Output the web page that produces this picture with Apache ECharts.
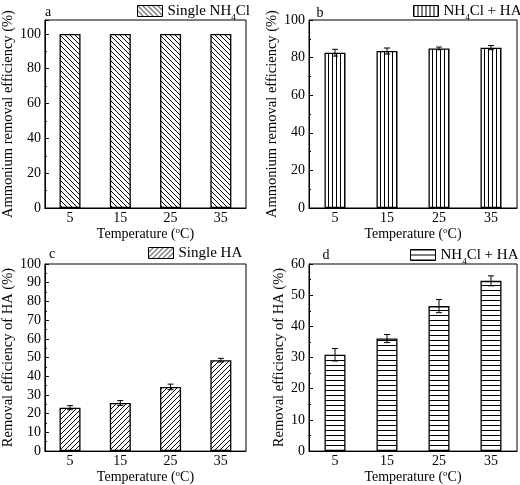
<!DOCTYPE html>
<html><head><meta charset="utf-8">
<script src="https://cdn.jsdelivr.net/npm/echarts@6/dist/echarts.min.js"></script>
<style>html,body{margin:0;padding:0;background:#fff}#c{width:520px;height:485px}</style>
</head><body><div id="c"></div>
<script>
// ---- data ----
const categories = ['5', '15', '25', '35'];
const aValues = [100, 100, 100, 100];
const bValues = [82.6, 83.5, 84.9, 85.3];
const bErrors = [1.8, 1.6, 0.7, 1.1];
const cValues = [23.2, 25.7, 34.3, 48.6];
const cErrors = [1.1, 1.3, 1.5, 1.0];
const dValues = [30.9, 36.1, 46.5, 54.6];
const dErrors = [2.0, 1.3, 2.1, 1.6];
const seriesNames = ['Single NH4Cl', 'NH4Cl + HA', 'Single HA', 'NH4Cl + HA '];
const yTitleA = 'Ammonium removal efficiency (%)';
const yTitleC = 'Removal efficiency of HA (%)';

const FONT = '"Liberation Serif", "Times New Roman", serif';

function makePattern(type) {
  const s = type === 'v' ? 4 : 5;
  const c = document.createElement('canvas');
  c.width = s; c.height = s;
  const g = c.getContext('2d');
  g.fillStyle = '#fff'; g.fillRect(0, 0, s, s);
  g.strokeStyle = '#000'; g.lineWidth = 1;
  g.beginPath();
  if (type === 'v') { g.moveTo(0.5, 0); g.lineTo(0.5, s); }
  else if (type === 'h') { g.moveTo(0, 0.5); g.lineTo(s, 0.5); }
  else if (type === 'back') { for (let k = -1; k <= 1; k++) { g.moveTo(k * s, 0); g.lineTo(k * s + s, s); } }
  else { for (let k = -1; k <= 1; k++) { g.moveTo(k * s, s); g.lineTo(k * s + s, 0); } }
  g.stroke();
  return { image: c, repeat: 'repeat' };
}

const grids = [
  { left: 37, top: 20, width: 209, height: 188 },
  { left: 309, top: 20, width: 208, height: 188 },
  { left: 37, top: 264, width: 209, height: 188 },
  { left: 309, top: 264, width: 208, height: 188 }
];
const yCfg = [
  { min: 0, max: 108, interval: 20, name: yTitleA, gap: 22 },
  { min: 0, max: 100, interval: 20, name: yTitleA, gap: 21 },
  { min: 0, max: 100, interval: 10, name: yTitleC, gap: 24 },
  { min: 0, max: 60, interval: 10, name: yTitleC, gap: 21 }
];
const patterns = [makePattern('back'), makePattern('v'), makePattern('fwd'), makePattern('h')];
const values = [aValues, bValues, cValues, dValues];
const errors = [null, bErrors, cErrors, dErrors];
const legendPos = [
  { left: 137, top: 0 }, { left: 413, top: 0 }, { left: 148, top: 245 }, { left: 410, top: 244 }
];
const letters = [
  { t: 'a', x: 48, y: 12 }, { t: 'b', x: 320, y: 13 }, { t: 'c', x: 52, y: 254 }, { t: 'd', x: 326, y: 255 }
];

const richSub = {
  sub: { fontFamily: FONT, fontSize: 9, color: '#000', lineHeight: 24, verticalAlign: 'bottom' },
  sup: { fontFamily: FONT, fontSize: 9, color: '#000', lineHeight: 24, verticalAlign: 'top' }
};

const xAxes = grids.map((g, i) => ({
  type: 'category', gridIndex: i, data: categories,
  axisLine: { lineStyle: { color: '#000', width: 1 } },
  axisTick: { inside: true, length: 3, lineStyle: { color: '#000' } },
  axisLabel: { color: '#000', fontFamily: FONT, fontSize: 14, margin: 3 },
  name: 'Temperature ({sup|o}C)', nameLocation: 'middle', nameGap: 15,
  nameTextStyle: { color: '#000', fontFamily: FONT, fontSize: 14, rich: {
    sup: { fontFamily: FONT, fontSize: 9, color: '#000', verticalAlign: 'top', lineHeight: 16 } } }
}));
const yAxes = yCfg.map((c, i) => ({
  type: 'value', gridIndex: i, min: c.min, max: c.max, interval: c.interval,
  splitLine: { show: false },
  axisLine: { show: true, lineStyle: { color: '#000', width: 1 } },
  axisTick: { show: true, inside: true, length: 4, lineStyle: { color: '#000' } },
  minorTick: { show: true, splitNumber: 2, length: 2, lineStyle: { color: '#000' } },
  axisLabel: { color: '#000', fontFamily: FONT, fontSize: 14, margin: 4, showMaxLabel: c.max % c.interval === 0 },
  name: c.name, nameLocation: 'middle', nameGap: c.gap,
  nameTextStyle: { color: '#000', fontFamily: FONT, fontSize: 14.5 }
}));

const series = [];
values.forEach((vals, i) => {
  series.push({
    type: 'bar', name: seriesNames[i], xAxisIndex: i, yAxisIndex: i,
    data: vals, barWidth: 21,
    itemStyle: { color: patterns[i], borderColor: '#000', borderWidth: 1.3 },
    emphasis: { disabled: true }
  });
  if (errors[i]) {
    series.push({
      type: 'custom', xAxisIndex: i, yAxisIndex: i, z: 5,
      data: vals.map((v, k) => [k, v - errors[i][k], v + errors[i][k]]),
      encode: { x: 0, y: [1, 2] },
      renderItem: function (params, api) {
        const lo = api.coord([api.value(0), api.value(1)]);
        const hi = api.coord([api.value(0), api.value(2)]);
        const w = 3;
        const st = { stroke: '#000', lineWidth: 1 };
        return { type: 'group', children: [
          { type: 'line', shape: { x1: lo[0], y1: lo[1], x2: hi[0], y2: hi[1] }, style: st },
          { type: 'line', shape: { x1: lo[0] - w, y1: lo[1], x2: lo[0] + w, y2: lo[1] }, style: st },
          { type: 'line', shape: { x1: hi[0] - w, y1: hi[1], x2: hi[0] + w, y2: hi[1] }, style: st }
        ] };
      }
    });
  }
});

const legends = seriesNames.map((n, i) => ({
  left: legendPos[i].left, top: legendPos[i].top, data: [n],
  icon: 'rect', itemWidth: 25, itemHeight: 11, itemGap: 4, padding: 0,
  selectedMode: false,
  itemStyle: { borderColor: '#000', borderWidth: 1 },
  formatter: function (name) { return name.trim().replace('NH4Cl', 'NH{sub|4}Cl'); },
  textStyle: { color: '#000', fontFamily: FONT, fontSize: 15, lineHeight: 16, rich: {
    sub: { fontFamily: FONT, fontSize: 9, color: '#000', verticalAlign: 'bottom', lineHeight: 22 } } }
}));

const option = {
  backgroundColor: '#fff',
  animation: false,
  grid: grids.map(g => Object.assign({ show: true, borderColor: '#000', borderWidth: 1, backgroundColor: 'transparent' }, g)),
  xAxis: xAxes, yAxis: yAxes, series: series, legend: legends,
  graphic: letters.map(l => ({ type: 'text', x: l.x, y: l.y,
    style: { text: l.t, fontFamily: FONT, fontSize: 14, fill: '#000', align: 'center', verticalAlign: 'middle' } }))
};
const chart = echarts.init(document.getElementById('c'), null, { renderer: 'canvas' });
chart.setOption(option);
</script></body></html>
